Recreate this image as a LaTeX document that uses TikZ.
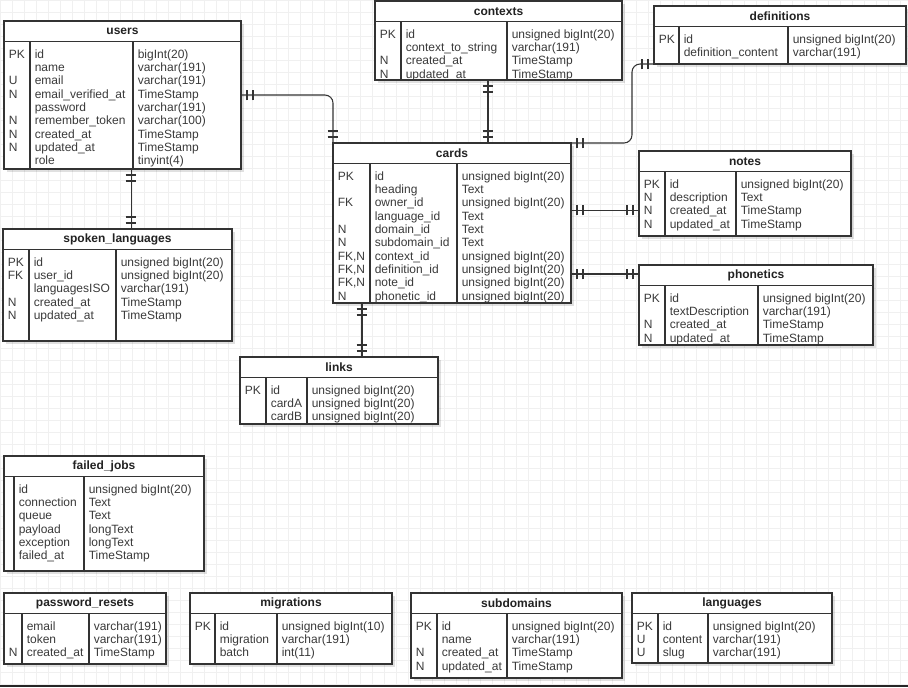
\documentclass[tikz,border=0pt]{standalone}
\usepackage{fontspec}
\setmainfont{Liberation Sans}
\usetikzlibrary{decorations.markings,shadows}

\definecolor{ln}{HTML}{333333}
\definecolor{txt}{HTML}{3A3A3A}
\definecolor{ttlc}{HTML}{222222}
\definecolor{gridc}{HTML}{F0F0F0}

\tikzset{
  tbl/.style={draw=ln, line width=0.8pt, fill=white, anchor=north west, inner sep=0pt, outer sep=0pt,
    drop shadow={shadow xshift=2pt, shadow yshift=-2pt, opacity=0.12, fill=black}},
  ttl/.style={anchor=north west, inner sep=0pt, outer sep=0pt, minimum height=15.4pt,
    font=\bfseries\fontsize{9}{10}\selectfont, text=ttlc},
  tline/.style={draw=ln, line width=0.8pt},
  col/.style={anchor=north west, inner sep=0pt, align=left, font=\fontsize{9}{10}\selectfont, text=txt},
  tick/.style={draw=ln, line width=0.8pt},
  one2one/.style={postaction={decorate, decoration={markings,
    mark=at position 4.5pt with {\draw[tick] (0,-4pt) -- (0,4pt);},
    mark=at position 9pt with {\draw[tick] (0,-4pt) -- (0,4pt);},
    mark=at position -4.5pt with {\draw[tick] (0,-4pt) -- (0,4pt);},
    mark=at position -9pt with {\draw[tick] (0,-4pt) -- (0,4pt);}}}},
  rel/.style={draw=ln, line width=0.8pt, rounded corners=6pt, one2one},
}

% table: name, position, width, height, key column, name column, keys, fields, types
\newcommand{\ertable}[9]{%
  \node[tbl, minimum width=#3*0.75pt, minimum height=#4*0.75pt] (#1) at (#2) {};
  \node[ttl, minimum width=#3*0.75pt] (#1-t) at (#1.north west) {\detokenize{#1}};
  \draw[tline] (#1-t.south west) -- (#1-t.south east);
  \draw[tline] ([xshift=#5*0.75pt]#1-t.south west) -- ([xshift=#5*0.75pt]#1.south west);
  \draw[tline] ([xshift=#6*0.75pt]#1-t.south west) -- ([xshift=#6*0.75pt]#1.south west);
  \node[col] at ([xshift=3.4pt,yshift=-5.25pt]#1-t.south west) {\strut#7};
  \node[col] at ([xshift=#5*0.75pt+3.4pt,yshift=-5.25pt]#1-t.south west) {\strut#8};
  \node[col] at ([xshift=#6*0.75pt+3.4pt,yshift=-5.25pt]#1-t.south west) {\strut#9};
}

\begin{document}
\begin{tikzpicture}[x=0.75pt,y=-0.75pt]
\useasboundingbox (0,0) rectangle (908,687);

% Background grid
\fill[white] (0,0) rectangle (908,687);
\draw[gridc, line width=0.4pt, step=9pt] (0,0) grid (908,687);
\draw[black!85, line width=1.5pt] (0,686) -- (908,686); % bottom border

% Tables (top part)
\ertable{users}{4,21}{237}{148}{26}{129}
  {PK\\~\\U\\N\\~\\N\\N\\N\\~}
  {id\\name\\email\\email\_verified\_at\\password\\remember\_token\\created\_at\\updated\_at\\role}
  {bigInt(20)\\varchar(191)\\varchar(191)\\TimeStamp\\varchar(191)\\varchar(100)\\TimeStamp\\TimeStamp\\tinyint(4)}
\ertable{contexts}{375,1}{247}{79}{26}{132}
  {PK\\~\\N\\N}
  {id\\context\_to\_string\\created\_at\\updated\_at}
  {unsigned bigInt(20)\\varchar(191)\\TimeStamp\\TimeStamp}
\ertable{definitions}{654,6}{252}{58}{25}{134}
  {PK}
  {id\\definition\_content}
  {unsigned bigInt(20)\\varchar(191)}
\ertable{cards}{333,143}{238}{160}{37}{124}
  {PK\\~\\FK\\~\\N\\N\\FK,N\\FK,N\\FK,N\\N}
  {id\\heading\\owner\_id\\language\_id\\domain\_id\\subdomain\_id\\context\_id\\definition\_id\\note\_id\\phonetic\_id}
  {unsigned bigInt(20)\\Text\\unsigned bigInt(20)\\Text\\Text\\Text\\unsigned bigInt(20)\\unsigned bigInt(20)\\unsigned bigInt(20)\\unsigned bigInt(20)}
\ertable{notes}{639,151}{212}{85}{26}{97}
  {PK\\N\\N\\N}
  {id\\description\\created\_at\\updated\_at}
  {unsigned bigInt(20)\\Text\\TimeStamp\\TimeStamp}
\ertable{phonetics}{639,265}{234}{80}{26}{119}
  {PK\\~\\N\\N}
  {id\\textDescription\\created\_at\\updated\_at}
  {unsigned bigInt(20)\\varchar(191)\\TimeStamp\\TimeStamp}
\ertable{spoken_languages}{3,229}{229}{112}{26}{113}
  {PK\\FK\\~\\N\\N}
  {id\\user\_id\\languagesISO\\created\_at\\updated\_at}
  {unsigned bigInt(20)\\unsigned bigInt(20)\\varchar(191)\\TimeStamp\\TimeStamp}
\ertable{links}{240,357}{198}{67}{26}{67}
  {PK}
  {id\\cardA\\cardB}
  {unsigned bigInt(20)\\unsigned bigInt(20)\\unsigned bigInt(20)}

% Tables (bottom part, no relations)
\ertable{failed_jobs}{4,456}{200}{115}{10}{80}
  {}
  {id\\connection\\queue\\payload\\exception\\failed\_at}
  {unsigned bigInt(20)\\Text\\Text\\longText\\longText\\TimeStamp}
\ertable{password_resets}{4,593}{162}{71}{18}{85}
  {~\\~\\N}
  {email\\token\\created\_at}
  {varchar(191)\\varchar(191)\\TimeStamp}
\ertable{migrations}{190,593}{202}{71}{25}{87}
  {PK}
  {id\\migration\\batch}
  {unsigned bigInt(10)\\varchar(191)\\int(11)}
\ertable{subdomains}{411,593}{211}{85}{26}{96}
  {PK\\~\\N\\N}
  {id\\name\\created\_at\\updated\_at}
  {unsigned bigInt(20)\\varchar(191)\\TimeStamp\\TimeStamp}
\ertable{languages}{632,593}{200}{70}{26}{76}
  {PK\\U\\U}
  {id\\content\\slug}
  {unsigned bigInt(20)\\varchar(191)\\varchar(191)}

% Relations (one and only one)
\coordinate (n1) at ([yshift=-12.4pt]notes.west);
\coordinate (p1) at ([yshift=23.25pt]phonetics.west);
\coordinate (l1) at ([xshift=17.25pt]links.north);
\draw[rel] (users.east) -| (cards.north west);
\draw[rel] ([xshift=6.4pt]users.south) -- ([xshift=6.4pt]users.south |- spoken_languages.north);
\draw[rel] ([xshift=-7.9pt]contexts.south) -- ([xshift=-7.9pt]contexts.south |- cards.north);
\draw[rel] (cards.north east) -| ([xshift=-16.5pt]definitions.south west) -- (definitions.south west);
\draw[rel] (cards.east |- n1) -- (n1);
\draw[rel] (cards.east |- p1) -- (p1);
\draw[rel] (l1 |- cards.south) -- (l1);

\end{tikzpicture}
\end{document}
